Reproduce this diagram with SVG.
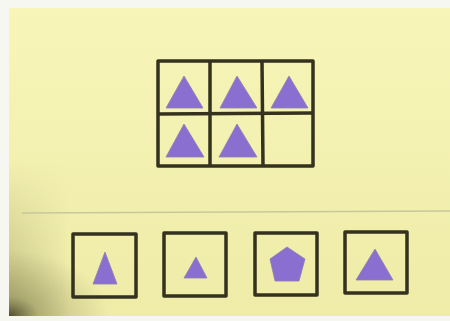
<svg xmlns="http://www.w3.org/2000/svg" width="450" height="321" viewBox="0 0 450 321">
<defs>
<style>
.ln{fill:none;stroke:#34321f;stroke-width:3.5;stroke-linejoin:round}
.sh{fill:#8a6fd0;stroke:#8f7fb0;stroke-width:0.8;stroke-linejoin:round}
</style>
<linearGradient id="card" x1="0" y1="0" x2="0" y2="1">
<stop offset="0" stop-color="#f7f5b8"/>
<stop offset="1" stop-color="#efeca8"/>
</linearGradient>
<radialGradient id="shadow" cx="0" cy="1" r="1" gradientUnits="objectBoundingBox">
<stop offset="0" stop-color="#3a3820" stop-opacity="0.85"/>
<stop offset="0.3" stop-color="#6d6b40" stop-opacity="0.35"/>
<stop offset="1" stop-color="#6d6b40" stop-opacity="0"/>
</radialGradient>
<linearGradient id="leftsh" x1="0" y1="0" x2="1" y2="0">
<stop offset="0" stop-color="#8c8a55" stop-opacity="0.5"/>
<stop offset="1" stop-color="#8c8a55" stop-opacity="0"/>
</linearGradient>
<linearGradient id="vfade" x1="0" y1="0" x2="0" y2="1">
<stop offset="0" stop-color="#fff" stop-opacity="0"/>
<stop offset="1" stop-color="#fff" stop-opacity="1"/>
</linearGradient>
<mask id="m">
<rect x="9" y="160" width="60" height="156" fill="url(#vfade)"/>
</mask>
</defs>
<rect width="450" height="321" fill="#f7f7f2"/>
<rect x="9" y="8" width="441" height="308" fill="url(#card)"/>
<rect x="9" y="160" width="60" height="156" fill="url(#leftsh)" mask="url(#m)"/>
<rect x="9" y="250" width="100" height="66" fill="url(#shadow)"/>
<line x1="22" y1="213" x2="450" y2="211" stroke="#c9c79a" stroke-width="1.5"/>

<g id="grid">
<rect class="ln" x="158" y="61" width="155" height="105"/>
<line class="ln" x1="210" y1="61" x2="210" y2="166"/>
<line class="ln" x1="262" y1="61" x2="263" y2="166"/>
<line class="ln" x1="158" y1="114" x2="313" y2="113"/>
<polygon class="sh" points="184,76 203,108 166,108"/>
<polygon class="sh" points="237,76 257,108 220,108"/>
<polygon class="sh" points="289,76 308,108 271,108"/>
<polygon class="sh" points="184,124 204,157 166,157"/>
<polygon class="sh" points="237,124 257,157 219,157"/>
</g>

<g id="option1">
<rect class="ln" x="73" y="234" width="63" height="63"/>
<polygon class="sh" points="105,252 117,284 93,284"/>
</g>
<g id="option2">
<rect class="ln" x="164" y="233" width="62" height="63"/>
<polygon class="sh" points="196,257 207,278 184,278"/>
</g>
<g id="option3">
<rect class="ln" x="255" y="233" width="62" height="62"/>
<polygon class="sh" points="287,247 305,259 299,281 275,281 270,259"/>
</g>
<g id="option4">
<rect class="ln" x="345" y="232" width="62" height="61"/>
<polygon class="sh" points="375,249 393,280 356,280"/>
</g>
</svg>
